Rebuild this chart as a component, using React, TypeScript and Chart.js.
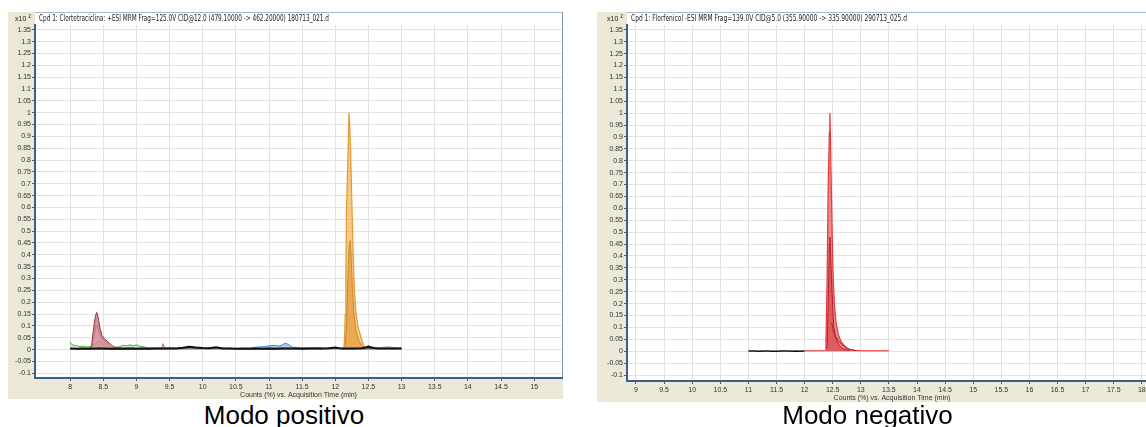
import React, { useEffect, useRef } from "react";
import { Chart, registerables } from "chart.js";

Chart.register(...registerables);

// ---------- Clortetraciclina, +ESI (modo positivo) ----------
const posHeader =
  "Cpd 1: Clortetraciclina: +ESI MRM Frag=125.0V CID@12.0 (479.10000 -> 462.20000) 180713_021.d";

const posBaselineTime = [
  8.0, 8.1, 8.2, 8.3, 8.4, 8.5, 8.6, 8.7, 8.8, 8.9, 9.0, 9.1, 9.2, 9.3, 9.4, 9.5, 9.6, 9.7, 9.8, 9.9,
  10.0, 10.1, 10.2, 10.3, 10.4, 10.5, 10.6, 10.7, 10.8, 10.9, 11.0, 11.1, 11.2, 11.3, 11.4, 11.5, 11.6,
  11.7, 11.8, 11.9, 12.0, 12.1, 12.2, 12.3, 12.4, 12.5, 12.6, 12.7, 12.8, 12.9, 13.0,
];
const posBaselineCounts = [
  0.004, 0.003, 0.004, 0.003, 0.005, 0.004, 0.003, 0.004, 0.003, 0.004, 0.003, 0.004, 0.003, 0.004,
  0.005, 0.004, 0.005, 0.008, 0.012, 0.009, 0.007, 0.006, 0.01, 0.005, 0.004, 0.003, 0.004, 0.003,
  0.004, 0.003, 0.004, 0.003, 0.004, 0.005, 0.004, 0.003, 0.004, 0.005, 0.004, 0.006, 0.009, 0.004,
  0.004, 0.005, 0.006, 0.012, 0.006, 0.004, 0.005, 0.004, 0.004,
];

const posGreenTime = [
  8.0, 8.02, 8.06, 8.1, 8.15, 8.2, 8.25, 8.3, 8.35, 8.4, 8.45, 8.5, 8.55, 8.6, 8.65, 8.7, 8.75, 8.8,
  8.85, 8.9, 8.95, 9.0, 9.05, 9.1, 9.15, 9.2, 9.3, 9.4, 9.5, 9.6, 9.8, 10.0, 10.3, 10.6, 11.0, 11.4,
  11.7, 11.9, 12.1, 12.5, 12.7, 12.8, 12.9, 13.0,
];
const posGreenCounts = [
  0.034, 0.022, 0.018, 0.016, 0.013, 0.014, 0.011, 0.013, 0.02, 0.03, 0.035, 0.03, 0.02, 0.012, 0.008,
  0.01, 0.013, 0.018, 0.016, 0.02, 0.016, 0.02, 0.014, 0.012, 0.009, 0.008, 0.007, 0.006, 0.008,
  0.006, 0.007, 0.005, 0.006, 0.005, 0.006, 0.005, 0.008, 0.006, 0.006, 0.007, 0.009, 0.011, 0.008,
  0.007,
];

const posMaroonTime = [8.28, 8.32, 8.35, 8.38, 8.4, 8.42, 8.45, 8.48, 8.52, 8.56, 8.6, 8.65, 8.7, 8.75];
const posMaroonCounts = [
  0.005, 0.01, 0.08, 0.14, 0.157, 0.14, 0.09, 0.06, 0.045, 0.035, 0.025, 0.012, 0.006, 0.004,
];

const posPinkTime = [8.33, 8.36, 8.39, 8.41, 8.44, 8.48, 8.55, 8.62, 8.7, 9.3, 9.38, 9.4, 9.43, 9.5];
const posPinkCounts = [0.01, 0.06, 0.1, 0.095, 0.07, 0.045, 0.03, 0.02, 0.008, 0.004, 0.006, 0.025, 0.006, 0.004];

const posBlueTime = [
  10.6, 10.7, 10.8, 10.9, 11.0, 11.1, 11.15, 11.2, 11.25, 11.3, 11.35, 11.45, 11.6, 11.8,
];
const posBlueCounts = [
  0.004, 0.006, 0.01, 0.012, 0.016, 0.018, 0.014, 0.02, 0.028, 0.02, 0.01, 0.008, 0.006, 0.005,
];

const posOrangeTime = [
  12.1, 12.13, 12.14, 12.15, 12.16, 12.17, 12.19, 12.205, 12.215, 12.23, 12.25, 12.27, 12.29, 12.31,
  12.34, 12.37, 12.4, 12.43, 12.46,
];
const posOrangeCounts = [
  0.005, 0.006, 0.05, 0.15, 0.35, 0.6, 0.8, 1.0, 0.96, 0.85, 0.62, 0.4, 0.25, 0.16, 0.1, 0.07, 0.04,
  0.015, 0.005,
];

const posAmberTime = [12.15, 12.17, 12.19, 12.21, 12.225, 12.24, 12.26, 12.28, 12.31, 12.35, 12.4, 12.45];
const posAmberCounts = [0.01, 0.1, 0.3, 0.44, 0.46, 0.38, 0.25, 0.15, 0.08, 0.04, 0.015, 0.005];

const posBrownTime = [12.42, 12.47, 12.5, 12.53, 12.58];
const posBrownCounts = [0.004, 0.012, 0.016, 0.012, 0.005];

// ---------- Florfenicol, -ESI (modo negativo) ----------
const negHeader =
  "Cpd 1: Florfenicol -ESI MRM Frag=139.0V CID@5.0 (355.90000 -> 335.90000) 290713_025.d";

const negBlackTime = [11.0, 11.1, 11.2, 11.3, 11.35, 11.4, 11.5, 11.6, 11.7, 11.8, 11.85, 11.9, 12.0];
const negBlackCounts = [0.001, 0.001, 0.0, 0.001, 0.001, 0.0, 0.0, 0.001, 0.001, 0.0, 0.001, 0.0, 0.001];

const negRedTime = [
  12.0, 12.2, 12.3, 12.37, 12.38, 12.4, 12.42, 12.44, 12.45, 12.46, 12.47, 12.49, 12.51, 12.53, 12.56,
  12.6, 12.65, 12.7, 12.75, 12.8, 12.9, 13.0, 13.2, 13.5,
];
const negRedCounts = [
  0.002, 0.002, 0.002, 0.003, 0.05, 0.3, 0.7, 0.92, 1.0, 0.9, 0.75, 0.5, 0.3, 0.2, 0.12, 0.07, 0.04,
  0.025, 0.015, 0.008, 0.004, 0.002, 0.002, 0.002,
];

const negCrimsonTime = [12.4, 12.42, 12.44, 12.45, 12.46, 12.48, 12.5, 12.52, 12.55, 12.6, 12.65, 12.7, 12.8];
const negCrimsonCounts = [0.01, 0.2, 0.45, 0.48, 0.42, 0.3, 0.18, 0.1, 0.06, 0.03, 0.015, 0.008, 0.003];

const negTailTime = [12.48, 12.52, 12.56, 12.6, 12.65, 12.7, 12.75, 12.8, 12.85, 12.9];
const negTailCounts = [0.12, 0.08, 0.06, 0.045, 0.03, 0.02, 0.012, 0.008, 0.004, 0.002];

// ---------- axes ----------
const posTimeTicks = [8, 8.5, 9, 9.5, 10, 10.5, 11, 11.5, 12, 12.5, 13, 13.5, 14, 14.5, 15];
const negTimeTicks = [
  9, 9.5, 10, 10.5, 11, 11.5, 12, 12.5, 13, 13.5, 14, 14.5, 15, 15.5, 16, 16.5, 17, 17.5, 18,
];
const countTicks = [
  -0.1, -0.05, 0, 0.05, 0.1, 0.15, 0.2, 0.25, 0.3, 0.35, 0.4, 0.45, 0.5, 0.55, 0.6, 0.65, 0.7, 0.75,
  0.8, 0.85, 0.9, 0.95, 1, 1.05, 1.1, 1.15, 1.2, 1.25, 1.3, 1.35,
];
const axisTitle = "Counts (%) vs. Acquisition Time (min)";

const BEIGE = "#ECE9D8";
const AXIS_BLUE = "#3d5d8c";
const FONT = '"Liberation Sans", Arial, sans-serif';
const NARROW = '"Liberation Sans Narrow", "DejaVu Sans Condensed", "Liberation Sans", sans-serif';

type Trace = {
  time: number[];
  counts: number[];
  line: string;
  fill: string | false;
  width: number;
};

function toPoints(time: number[], counts: number[]) {
  return time.map((t, i) => ({ x: t, y: counts[i] }));
}

const framePlugin = {
  id: "chromFrame",
  beforeDraw(chart: any, _args: any, opts: any) {
    const { ctx, chartArea: a, width, height } = chart;
    ctx.save();
    ctx.fillStyle = BEIGE;
    ctx.fillRect(0, 0, width, height);
    ctx.fillStyle = "#ffffff";
    ctx.fillRect(a.left, 0, a.right - a.left, a.bottom);
    ctx.lineWidth = 1;
    ctx.strokeStyle = "#a9b8c8";
    ctx.beginPath();
    ctx.moveTo(a.left, 0.5);
    ctx.lineTo(a.right + 1, 0.5);
    ctx.stroke();
    ctx.strokeStyle = "#8796ad";
    ctx.beginPath();
    ctx.moveTo(a.right + 0.5, 0);
    ctx.lineTo(a.right + 0.5, a.bottom);
    ctx.stroke();
    // header line inside the plot frame, squeezed to the width of the source font
    ctx.fillStyle = "#222";
    ctx.textBaseline = "middle";
    ctx.font = `8px ${NARROW}`;
    const hw = ctx.measureText(opts.header).width;
    ctx.save();
    ctx.translate(a.left + 4, 7);
    if (hw > opts.headerWidth) ctx.scale(opts.headerWidth / hw, 1);
    ctx.fillText(opts.header, 0, 0);
    ctx.restore();
    // exponent marker
    ctx.font = `7px ${FONT}`;
    const w = ctx.measureText("x10").width;
    ctx.fillText("x10", a.left - 20, 7);
    ctx.font = `5px ${FONT}`;
    ctx.fillText("2", a.left - 20 + w + 2, 5);
    ctx.restore();
  },
};

type PanelProps = {
  left: number;
  top: number;
  width: number;
  height: number;
  yAxisWidth: number;
  xAxisHeight: number;
  padRight: number;
  xMin: number;
  xMax: number;
  yMin: number;
  yMax: number;
  xTicks: number[];
  header: string;
  headerWidth: number;
  traces: Trace[];
};

function Panel(p: PanelProps) {
  const ref = useRef<HTMLCanvasElement | null>(null);

  useEffect(() => {
    if (!ref.current) return;
    const chart = new Chart(ref.current, {
      type: "line",
      data: {
        datasets: p.traces.map((t) => ({
          data: toPoints(t.time, t.counts),
          borderColor: t.line,
          backgroundColor: t.fill || "transparent",
          borderWidth: t.width,
          fill: t.fill ? "origin" : false,
          pointRadius: 0,
          tension: 0,
        })),
      },
      options: {
        responsive: false,
        animation: false,
        events: [],
        layout: { padding: { top: 13, right: p.padRight, left: 0, bottom: 0 } },
        plugins: {
          legend: { display: false },
          tooltip: { enabled: false },
          chromFrame: { header: p.header, headerWidth: p.headerWidth },
        } as any,
        scales: {
          x: {
            type: "linear",
            min: p.xMin,
            max: p.xMax,
            afterBuildTicks: (s: any) => {
              s.ticks = p.xTicks.map((v) => ({ value: v }));
            },
            afterFit: (s: any) => {
              s.height = p.xAxisHeight;
            },
            ticks: {
              autoSkip: false,
              maxRotation: 0,
              padding: 2,
              color: "#333",
              font: { family: FONT, size: 7 },
              callback: (v: any) => String(v),
            },
            grid: { color: "#e2e2e2", tickColor: "#555", tickLength: 3, lineWidth: 1 },
            border: { color: AXIS_BLUE, width: 2 },
            title: {
              display: true,
              text: axisTitle,
              color: "#333",
              font: { family: FONT, size: 7 },
              padding: { top: 0, bottom: 0 },
            },
          },
          y: {
            type: "linear",
            min: p.yMin,
            max: p.yMax,
            afterBuildTicks: (s: any) => {
              s.ticks = countTicks.map((v) => ({ value: v }));
            },
            afterFit: (s: any) => {
              s.width = p.yAxisWidth;
            },
            ticks: {
              autoSkip: false,
              padding: 1,
              color: "#333",
              font: { family: FONT, size: 7 },
              callback: (v: any) => String(v),
            },
            grid: { color: "#e2e2e2", tickColor: "#555", tickLength: 3, lineWidth: 1 },
            border: { color: AXIS_BLUE, width: 2 },
          },
        },
      },
      plugins: [framePlugin],
    } as any);
    return () => chart.destroy();
  }, []);

  return (
    <canvas
      ref={ref}
      width={p.width}
      height={p.height}
      style={{ position: "absolute", left: p.left, top: p.top, width: p.width, height: p.height }}
    />
  );
}

const positiveTraces: Trace[] = [
  { time: posBaselineTime, counts: posBaselineCounts, line: "#111", fill: "rgba(60,60,60,0.45)", width: 2 },
  { time: posBrownTime, counts: posBrownCounts, line: "#6b5a3a", fill: "rgba(120,100,60,0.5)", width: 1 },
  { time: posAmberTime, counts: posAmberCounts, line: "#c98a2e", fill: "rgba(222,145,45,0.55)", width: 1 },
  { time: posOrangeTime, counts: posOrangeCounts, line: "#e39a35", fill: "rgba(246,182,92,0.75)", width: 1.2 },
  { time: posBlueTime, counts: posBlueCounts, line: "#3f8fd6", fill: "rgba(90,160,225,0.55)", width: 1 },
  { time: posPinkTime, counts: posPinkCounts, line: "#c7707f", fill: "rgba(228,160,170,0.6)", width: 1 },
  { time: posMaroonTime, counts: posMaroonCounts, line: "#9b3242", fill: "rgba(172,82,92,0.6)", width: 1 },
  { time: posGreenTime, counts: posGreenCounts, line: "#4fae4f", fill: "rgba(120,190,120,0.35)", width: 1 },
];

const negativeTraces: Trace[] = [
  { time: negBlackTime, counts: negBlackCounts, line: "#111", fill: false, width: 1.5 },
  { time: negTailTime, counts: negTailCounts, line: "#a12a2f", fill: false, width: 1 },
  { time: negCrimsonTime, counts: negCrimsonCounts, line: "#b3202c", fill: "rgba(205,55,65,0.55)", width: 1 },
  { time: negRedTime, counts: negRedCounts, line: "#e23a3a", fill: "rgba(242,100,100,0.75)", width: 1.2 },
];

const captionStyle: React.CSSProperties = {
  position: "absolute",
  top: 402,
  width: 240,
  textAlign: "center",
  fontFamily: FONT,
  fontSize: 26,
  lineHeight: "26px",
  color: "#000",
  whiteSpace: "nowrap",
};

export default function App() {
  return (
    <div
      style={{
        position: "absolute",
        left: 0,
        top: 0,
        width: 1146,
        height: 427,
        overflow: "hidden",
        background: "#fff",
      }}
    >
      <Panel
        left={8}
        top={12}
        width={555}
        height={387}
        yAxisWidth={27}
        xAxisHeight={21}
        padRight={1}
        xMin={7.47}
        xMax={15.42}
        yMin={-0.12}
        yMax={1.37}
        xTicks={posTimeTicks}
        header={posHeader}
        headerWidth={290}
        traces={positiveTraces}
      />
      <Panel
        left={597}
        top={12}
        width={565}
        height={390}
        yAxisWidth={30}
        xAxisHeight={21}
        padRight={5}
        xMin={8.84}
        xMax={18.27}
        yMin={-0.125}
        yMax={1.37}
        xTicks={negTimeTicks}
        header={negHeader}
        headerWidth={276}
        traces={negativeTraces}
      />
      <div style={{ ...captionStyle, left: 164 }}>Modo positivo</div>
      <div style={{ ...captionStyle, left: 747.5 }}>Modo negativo</div>
    </div>
  );
}
